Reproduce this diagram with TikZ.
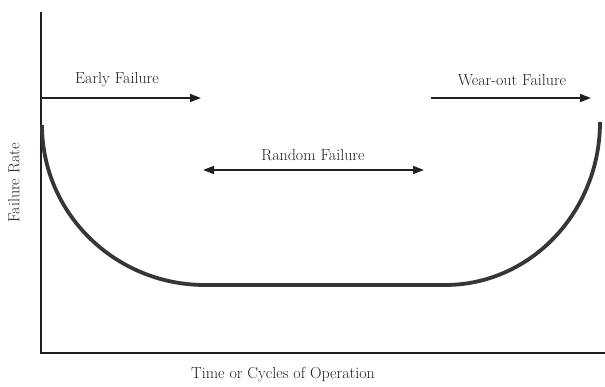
\documentclass[tikz,border=0pt]{standalone}
\usepackage{xcolor}
\usepackage{tikz}
\usetikzlibrary{arrows.meta}

\definecolor{inkgray}{RGB}{35,31,32}

\begin{document}
\begin{tikzpicture}[x=1pt, y=-1pt, every node/.style={font=\fontsize{16}{19}\selectfont, text=inkgray}]
            \useasboundingbox (0,0) rectangle (605,387);
            \tikzset{
              axisline/.style={line width=1.6pt, inkgray},
              phasearrow/.style={line width=1.6pt, inkgray, -{Triangle[length=11pt,width=8pt]}},
              bathcurve/.style={line width=3.8pt, inkgray!90!white}
            }
            
            % Axes
            \coordinate (top) at (41,12);
            \coordinate (origin) at (41,353);
            \coordinate (xend) at (605,353);
            \draw[axisline] (top) -- (origin) -- (xend);
            \node (xlabel) at (283,375) {Time or Cycles of Operation};
            \node[rotate=90] (ylabel) at (14,183) {Failure Rate};
            
            % Bathtub curve
            \coordinate (cstart) at (42,125);
            \coordinate (cflat) at (445,285);
            \draw[bathcurve] (cstart) arc[start angle=180, end angle=90, x radius=163, y radius=160]
              -- (cflat) arc[start angle=90, end angle=0, x radius=155, y radius=163];
            
            % Early failure
            \coordinate (earlyfrom) at (41,98);
            \coordinate (earlyto) at (201,98);
            \draw[phasearrow] (earlyfrom) -- (earlyto);
            \node (early) at (117,80) {Early Failure};
            
            % Wear-out failure
            \coordinate (wearfrom) at (431,98);
            \coordinate (wearto) at (591,98);
            \draw[phasearrow] (wearfrom) -- (wearto);
            \node (wear) at (512,80) {Wear-out Failure};
            
            % Random failure
            \coordinate (randfrom) at (203,170);
            \coordinate (randto) at (424,170);
            \draw[phasearrow, {Triangle[length=11pt,width=8pt]}-{Triangle[length=11pt,width=8pt]}] (randfrom) -- (randto);
            \node (random) at (313,155) {Random Failure};
            
        \end{tikzpicture}
\end{document}
